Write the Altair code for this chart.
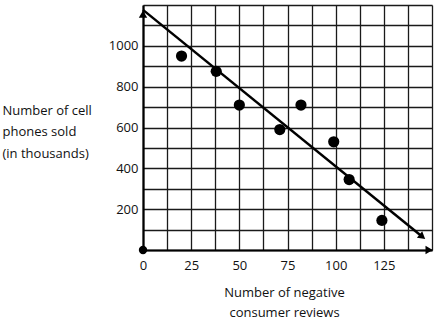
import altair as alt
import pandas as pd
import math

# Data
reviews = [20, 38, 50, 71, 82, 99, 107, 124]
phones = [950, 875, 710, 590, 710, 530, 345, 145]

origin_x = [0]
origin_y = [0]

fit_x = [0, 145]
fit_y = [1176, 65]

x_grid = [i * 12.5 for i in range(13)]
y_grid = [i * 100 for i in range(13)]
x_labels = [0, 25, 50, 75, 100, 125]
y_labels = [200, 400, 600, 800, 1000]

W, H = 289, 245
XMAX, YMAX = 150, 1200

pts = pd.DataFrame({"x": reviews, "y": phones})
org = pd.DataFrame({"x": origin_x, "y": origin_y})
fit = pd.DataFrame({"x": fit_x, "y": fit_y})

ang = math.degrees(math.atan2((fit_y[0] - fit_y[1]) * H / YMAX, (fit_x[1] - fit_x[0]) * W / XMAX))

font = "Open Sans"
xlabel_expr = "indexof([" + ",".join(str(v) for v in x_labels) + "], datum.value) >= 0 ? format(datum.value, 'd') : ''"
ylabel_expr = "indexof([" + ",".join(str(v) for v in y_labels) + "], datum.value) >= 0 ? format(datum.value, 'd') : ''"

xs = alt.Scale(domain=[0, XMAX], nice=False, zero=False)
ys = alt.Scale(domain=[0, YMAX], nice=False, zero=False)

xax = alt.Axis(values=x_grid, labelExpr=xlabel_expr, grid=True, gridColor="#1a1a1a", gridWidth=1.3,
               gridOpacity=1, domainColor="#000", domainWidth=2.2, ticks=False, labelPadding=9,
               labelFont=font, labelFontSize=13, labelColor="#111", labelFlush=False, labelOverlap=False,
               title=["Number of negative", "consumer reviews"], titleFont=font, titleFontSize=13,
               titleFontWeight="normal", titleColor="#111", titleBaseline="top", titleY=36, titleX=141,
               titleAlign="center", titleLineHeight=20)
yax = alt.Axis(values=y_grid, labelExpr=ylabel_expr, grid=True, gridColor="#1a1a1a", gridWidth=1.3,
               gridOpacity=1, domainColor="#000", domainWidth=2.2, ticks=False, labelPadding=5,
               labelFont=font, labelFontSize=13, labelColor="#111", labelFlush=False, labelOverlap=False,
               title=["Number of cell", "phones sold", "(in thousands)"], titleFont=font, titleFontSize=13,
               titleFontWeight="normal", titleColor="#111", titleAngle=0, titleAlign="left",
               titleBaseline="top", titleX=-141, titleY=99, titleLineHeight=21.5)

X = alt.X("x:Q", scale=xs, axis=xax)
Y = alt.Y("y:Q", scale=ys, axis=yax)

base = alt.Chart(pts).mark_point(filled=True, color="#000", size=125, opacity=1).encode(x=X, y=Y)

org_pt = alt.Chart(org).mark_point(filled=True, color="#000", size=70, opacity=1).encode(x=X, y=Y)

line = alt.Chart(fit).mark_line(color="#000", strokeWidth=2.5, clip=False).encode(x=X, y=Y)

line_end = alt.Chart(pd.DataFrame({"x": [fit_x[1]], "y": [fit_y[1]]})).mark_point(
    shape="triangle-right", filled=True, color="#000", size=70, angle=ang, opacity=1).encode(x=X, y=Y)

xarrow = alt.Chart(pd.DataFrame({"x": [XMAX - 1.5], "y": [0]})).mark_point(
    shape="triangle-right", filled=True, color="#000", size=70, opacity=1).encode(x=X, y=Y)

yarrow = alt.Chart(pd.DataFrame({"x": [0], "y": [YMAX - 45]})).mark_point(
    shape="triangle-up", filled=True, color="#000", size=70, opacity=1).encode(x=X, y=Y)

chart = alt.layer(base, line, line_end, xarrow, yarrow, org_pt).properties(
    width=W, height=H,
    autosize=alt.AutoSizeParams(type="none"),
    padding={"left": 143, "top": 5, "right": 8, "bottom": 75},
    background="white",
).configure_view(stroke=None)

chart.save("out.html", embed_options={"renderer": "svg", "actions": False})
